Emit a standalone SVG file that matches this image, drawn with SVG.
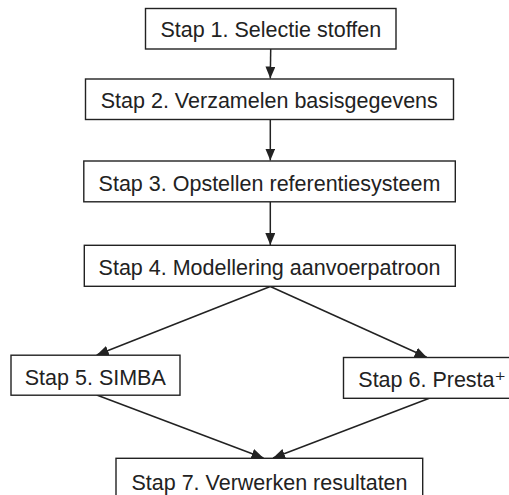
<svg xmlns="http://www.w3.org/2000/svg" width="509" height="495" viewBox="0 0 509 495">
<style>
.box{fill:#fff;stroke:#222;stroke-width:1.4}
.lbl{font-family:"Liberation Sans",Arial,"DejaVu Sans",sans-serif;font-size:21.5px;fill:#222;text-anchor:middle}
.conn{stroke:#222;stroke-width:1.5;fill:none;marker-end:url(#ah)}
</style>
<defs>
<marker id="ah" markerUnits="userSpaceOnUse" markerWidth="13" markerHeight="11" refX="12" refY="5" orient="auto">
<path d="M0,0 L12,5 L0,10 z" fill="#222"/>
</marker>
</defs>
<rect width="509" height="495" fill="#fff"/>
<g id="connectors">
<line class="conn" x1="270.7" y1="49" x2="270.3" y2="78.5"/>
<line class="conn" x1="270.3" y1="119.5" x2="270.3" y2="160.5"/>
<line class="conn" x1="270.3" y1="202" x2="270.3" y2="245"/>
<line class="conn" x1="270.3" y1="286.5" x2="96.7" y2="355"/>
<line class="conn" x1="270.3" y1="286.5" x2="426.7" y2="357.3"/>
<line class="conn" x1="96.7" y1="395" x2="263.5" y2="458"/>
<line class="conn" x1="430" y1="398" x2="273" y2="458"/>
</g>
<g id="n1">
<rect class="box" x="145.5" y="8.5" width="250.5" height="40.5"/>
<text class="lbl" x="270.8" y="37.3">Stap 1. Selectie stoffen</text>
</g>
<g id="n2">
<rect class="box" x="85.5" y="79" width="368" height="40.5"/>
<text class="lbl" x="269.3" y="108.3">Stap 2. Verzamelen basisgegevens</text>
</g>
<g id="n3">
<rect class="box" x="83.8" y="161" width="371.5" height="40.8"/>
<text class="lbl" x="269.5" y="190.7">Stap 3. Opstellen referentiesysteem</text>
</g>
<g id="n4">
<rect class="box" x="84.3" y="245.3" width="371" height="41"/>
<text class="lbl" x="269.5" y="275">Stap 4. Modellering aanvoerpatroon</text>
</g>
<g id="n5">
<rect class="box" x="11" y="355.2" width="169" height="40"/>
<text class="lbl" x="95.3" y="385">Stap 5. SIMBA</text>
</g>
<g id="n6">
<rect class="box" x="343.5" y="357.5" width="170" height="40.8"/>
<text class="lbl" x="358.3" y="387.3" style="text-anchor:start">Stap 6. Presta⁺</text>
</g>
<g id="n7">
<rect class="box" x="116" y="458.3" width="306.7" height="45"/>
<text class="lbl" x="269.5" y="490">Stap 7. Verwerken resultaten</text>
</g>
</svg>
